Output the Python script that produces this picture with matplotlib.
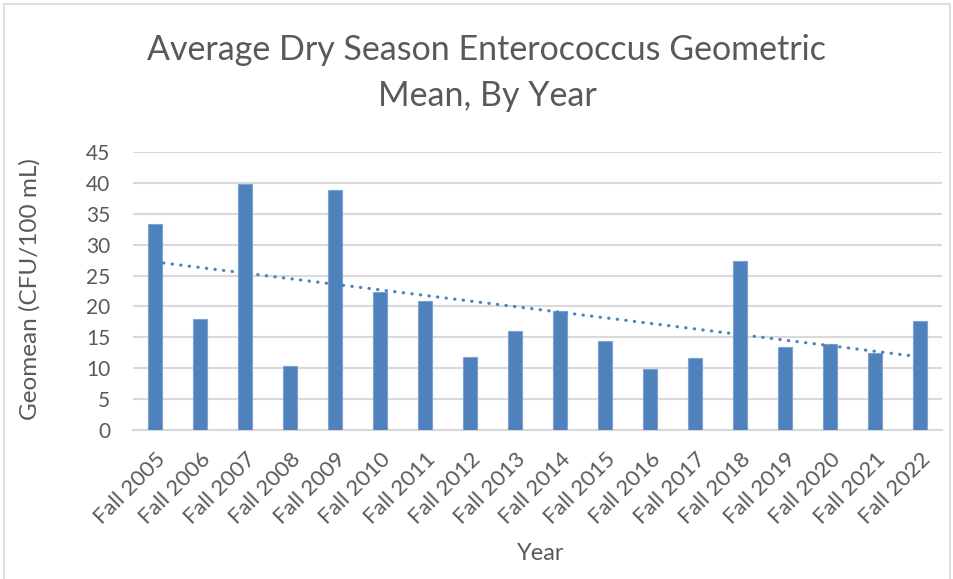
import numpy as np
import matplotlib.pyplot as plt
from matplotlib.patches import Rectangle

# values
years = ["Fall 2005", "Fall 2006", "Fall 2007", "Fall 2008", "Fall 2009", "Fall 2010",
         "Fall 2011", "Fall 2012", "Fall 2013", "Fall 2014", "Fall 2015", "Fall 2016",
         "Fall 2017", "Fall 2018", "Fall 2019", "Fall 2020", "Fall 2021", "Fall 2022"]
geomean = [33.4, 18.0, 39.8, 10.3, 38.8, 22.4, 20.9, 11.9, 16.1, 19.2, 14.4, 9.9,
           11.6, 27.3, 13.5, 13.9, 12.5, 17.6]
y_ticks = [0, 5, 10, 15, 20, 25, 30, 35, 40, 45]

blue = "#4F81BD"
text_grey = "#595959"
grid_grey = "#D9D9D9"

plt.rcParams['font.family'] = ['Lato', 'DejaVu Sans']

fig = plt.figure(figsize=(9.54, 5.79), dpi=100)
ax = fig.add_axes([0.1389, 0.2573, 0.849, 0.4801])

x = np.arange(len(years))
ax.bar(x, geomean, width=0.31, color=blue, edgecolor="#7EA1CF", linewidth=0.8, zorder=3)

# linear trendline
slope, intercept = np.polyfit(x, geomean, 1)
ax.plot(x, slope * x + intercept, color=blue, linewidth=2.3,
        linestyle=(0, (0.1, 2.6)), dash_capstyle="round", zorder=4)

ax.set_xlim(-0.5, len(years) - 0.5)
ax.set_ylim(0, 45)
ax.set_yticks(y_ticks)
ax.yaxis.grid(True, color=grid_grey, linewidth=1.5, zorder=0)
ax.set_axisbelow(True)
for s in ["top", "right", "left"]:
    ax.spines[s].set_visible(False)
ax.spines["bottom"].set_color(grid_grey)
ax.spines["bottom"].set_linewidth(1.5)
ax.tick_params(length=0, colors=text_grey)
ax.tick_params(axis="y", pad=16, labelsize=15)
ax.set_xticks(x)
ax.set_xticklabels(years, rotation=45, ha="right", rotation_mode="anchor")
ax.tick_params(axis="x", pad=14, labelsize=16)

# axis titles
fig.text(541 / 954, 1 - 553 / 579, "Year", ha="center", va="center",
         fontsize=17, color=text_grey)
fig.text(30 / 954, 1 - 289 / 579, "Geomean (CFU/100 mL)", ha="center", va="center",
         rotation=90, fontsize=17.5, color=text_grey)

# chart title
fig.text(487 / 954, 1 - 60 / 579, "Average Dry Season Enterococcus Geometric",
         ha="center", va="baseline", fontsize=24.5, color=text_grey)
fig.text(487 / 954, 1 - 106 / 579, "Mean, By Year",
         ha="center", va="baseline", fontsize=24.5, color=text_grey)

# chart border
fig.patches.append(Rectangle((4 / 954, -0.01), 946 / 954, 1 - 4 / 579 + 0.01,
                             transform=fig.transFigure, fill=False,
                             edgecolor="#D9D9D9", linewidth=1.2))

fig.savefig("out.png", dpi=100)
